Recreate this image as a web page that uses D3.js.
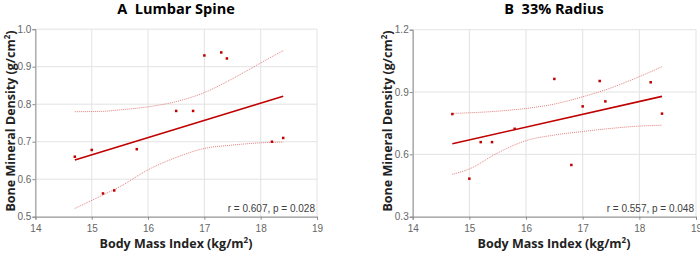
<!DOCTYPE html>
<html>
<head>
<meta charset="utf-8">
<script src="https://cdn.jsdelivr.net/npm/d3@7"></script>
<style>
  body { margin: 0; background: #fff; }
  svg { display: block; }
</style>
</head>
<body>
<div id="chart-area"></div>
<script>
// BMI (kg/m2) of each subject
const bmi = [14.7, 15.0, 15.2, 15.4, 15.8, 16.5, 16.8, 17.0, 17.3, 17.4, 18.2, 18.4]

// Panel A - lumbar spine BMD
const spineBmd = [0.66, 0.678, 0.562, 0.57, 0.68, 0.782, 0.782, 0.93, 0.938, 0.922, 0.70, 0.71]
const spineFit = [[14.7, 0.651], [18.4, 0.821]]
const spineUpper = [[14.7, 0.780], [15.2, 0.781], [15.5, 0.785], [16.0, 0.793], [16.5, 0.807], [17.0, 0.831], [17.5, 0.868], [18.0, 0.910], [18.4, 0.943]]
const spineLower = [[14.7, 0.522], [15.2, 0.558], [15.5, 0.58], [16.0, 0.625], [16.5, 0.658], [17.0, 0.682], [17.5, 0.691], [18.0, 0.697], [18.4, 0.699]]

// Panel B - 33% radius BMD
const radiusBmd = [0.794, 0.483, 0.659, 0.659, 0.723, 0.963, 0.549, 0.831, 0.953, 0.855, 0.947, 0.796]
const radiusFit = [[14.7, 0.651], [18.4, 0.879]]
const radiusUpper = [[14.7, 0.797], [15.5, 0.808], [16.0, 0.821], [16.5, 0.842], [17.0, 0.877], [17.5, 0.92], [18.0, 0.974], [18.4, 1.022]]
const radiusLower = [[14.7, 0.504], [15.0, 0.53], [15.5, 0.607], [16.0, 0.666], [16.5, 0.693], [17.0, 0.71], [17.5, 0.725], [18.0, 0.736], [18.4, 0.74]]

const xTicks = [14, 15, 16, 17, 18, 19]
const spineTicks = [0.5, 0.6, 0.7, 0.8, 0.9, 1.0]
const radiusTicks = [0.3, 0.6, 0.9, 1.2]

const RED = "#c00000"
const PINK = "#e47f7f"

const svg = d3.select("#chart-area").append("svg")
  .attr("width", 700)
  .attr("height", 253)

function panel(opts) {
  const x = d3.scaleLinear().domain([14, 19]).range([opts.left, opts.right])
  const y = d3.scaleLinear().domain(opts.yDomain).range([216.7, opts.top])
  const g = svg.append("g")

  // grid
  g.selectAll(".vgrid").data(xTicks).enter().append("line")
    .attr("x1", d => x(d)).attr("x2", d => x(d))
    .attr("y1", y.range()[0]).attr("y2", y.range()[1])
    .attr("stroke", "#e3e3e3").attr("stroke-width", 1)
  g.selectAll(".hgrid").data(opts.yTicks).enter().append("line")
    .attr("x1", x.range()[0]).attr("x2", x.range()[1])
    .attr("y1", d => y(d)).attr("y2", d => y(d))
    .attr("stroke", "#e3e3e3").attr("stroke-width", 1)

  // axes
  const xAxis = g.append("g")
    .attr("transform", `translate(0, ${y.range()[0]})`)
    .call(d3.axisBottom(x).tickValues(xTicks).tickSize(3).tickFormat(d3.format("d")))
  const yAxis = g.append("g")
    .attr("transform", `translate(${x.range()[0]}, 0)`)
    .call(d3.axisLeft(y).tickValues(opts.yTicks).tickSize(3).tickFormat(d3.format(".1f")))
  ;[xAxis, yAxis].forEach(a => {
    a.select(".domain").attr("stroke", "#8c8c8c")
    a.selectAll(".tick line").attr("stroke", "#8c8c8c")
    a.selectAll("text")
      .attr("fill", "#666")
      .style("font-family", "'Liberation Sans', Arial, sans-serif")
      .style("font-size", "10px")
  })
  xAxis.selectAll("text").attr("dy", "0.9em")
  yAxis.selectAll("text").attr("x", -4)

  const line = d3.line().x(d => x(d[0])).y(d => y(d[1]))
  const curve = d3.line().x(d => x(d[0])).y(d => y(d[1])).curve(d3.curveMonotoneX)

  // confidence band
  ;[opts.upper, opts.lower].forEach(band => {
    g.append("path")
      .attr("d", curve(band))
      .attr("fill", "none")
      .attr("stroke", PINK)
      .attr("stroke-width", 1)
      .attr("stroke-dasharray", "1,1")
  })

  // fit line
  g.append("path")
    .attr("d", line(opts.fit))
    .attr("fill", "none")
    .attr("stroke", RED)
    .attr("stroke-width", 1.6)

  // points
  g.selectAll(".pt").data(bmi).enter().append("rect")
    .attr("x", d => x(d) - 1.25)
    .attr("y", (d, i) => y(opts.values[i]) - 1.25)
    .attr("width", 2.5).attr("height", 2.5)
    .attr("fill", RED)

  // stats text
  g.append("text")
    .attr("x", x.range()[1] - 2)
    .attr("y", y.range()[0] - 5)
    .attr("text-anchor", "end")
    .style("font-family", "'Liberation Sans', Arial, sans-serif")
    .style("font-size", "10px")
    .attr("fill", "#404040")
    .text(opts.stat)

  const cx = opts.titleX
  // title
  g.append("text")
    .attr("x", cx)
    .attr("y", 14)
    .attr("text-anchor", "middle")
    .attr("xml:space", "preserve")
    .style("font-family", "'Open Sans', sans-serif")
    .style("font-weight", "bold")
    .style("font-size", "14.5px")
    .style("white-space", "pre")
    .text(opts.title)

  // x label
  const xl = g.append("text")
    .attr("x", cx)
    .attr("y", 248)
    .attr("text-anchor", "middle")
    .style("font-family", "'Open Sans', sans-serif")
    .style("font-weight", "bold")
    .style("font-size", "12.5px")
    .attr("fill", "#222")
  xl.append("tspan").text("Body Mass Index (kg/m")
  xl.append("tspan").attr("dy", -5).style("font-size", "8px").text("2")
  xl.append("tspan").attr("dy", 5).text(")")

  // y label
  const yl = g.append("text")
    .attr("transform", `translate(${opts.yLabelX}, 121) rotate(-90)`)
    .attr("text-anchor", "middle")
    .style("font-family", "'Open Sans', sans-serif")
    .style("font-weight", "bold")
    .style("font-size", "12.5px")
    .attr("fill", "#222")
  yl.append("tspan").text("Bone Mineral Density (g/cm")
  yl.append("tspan").attr("dy", -5).style("font-size", "8px").text("2")
  yl.append("tspan").attr("dy", 5).text(")")
}

panel({
  left: 35.4, right: 317, top: 29.2,
  yDomain: [0.5, 1.0], yTicks: spineTicks,
  values: spineBmd, fit: spineFit, upper: spineUpper, lower: spineLower,
  stat: "r = 0.607, p = 0.028", title: "A  Lumbar Spine",
  titleX: 176, yLabelX: 15
})

panel({
  left: 412.7, right: 696, top: 29.7,
  yDomain: [0.3, 1.2], yTicks: radiusTicks,
  values: radiusBmd, fit: radiusFit, upper: radiusUpper, lower: radiusLower,
  stat: "r = 0.557, p = 0.048", title: "B  33% Radius",
  titleX: 554, yLabelX: 392
})
</script>
</body>
</html>
